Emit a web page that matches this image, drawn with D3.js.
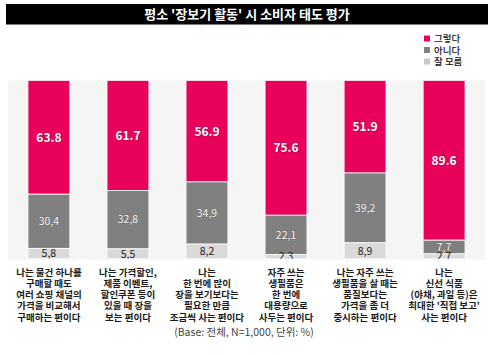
<!DOCTYPE html>
<html><head><meta charset="utf-8">
<script src="https://cdn.jsdelivr.net/npm/d3@7/dist/d3.min.js"></script>
<style>
body{margin:0;background:#fff;}
svg{display:block;font-family:"Noto Sans CJK KR","Noto Sans",sans-serif;}
</style></head>
<body>
<svg id="c" width="494" height="355"></svg>
<script>
const categories = [
  ["나는 물건 하나를","구매할 때도","여러 쇼핑 채널의","가격을 비교해서","구매하는 편이다"],
  ["나는 가격할인,","제품 이벤트,","할인쿠폰 등이","있을 때 장을","보는 편이다"],
  ["나는","한 번에 많이","장을 보기보다는","필요한 만큼","조금씩 사는 편이다"],
  ["자주 쓰는","생필품은","한 번에","대용량으로","사두는 편이다"],
  ["나는 자주 쓰는","생필품을 살 때는","품질보다는","가격을 좀 더","중시하는 편이다"],
  ["나는","신선 식품","(야채, 과일 등)은","최대한 '직접 보고'","사는 편이다"]
];
const seriesNames = ["그렇다","아니다","잘 모름"];
const yesValues = [63.8, 61.7, 56.9, 75.6, 51.9, 89.6];
const noValues = [30.4, 32.8, 34.9, 22.1, 39.2, 7.7];
const dkValues = [5.8, 5.5, 8.2, 2.3, 8.9, 2.7];
const colors = ["#e8005b", "#808080", "#d9d9d9"];
const legendColors = ["#e8005b", "#808080", "#c8c8c8"];
const title = "평소 '장보기 활동' 시 소비자 태도 평가";
const note = "(Base: 전체, N=1,000, 단위: %)";

const svg = d3.select("#c");
svg.append("rect").attr("x",6).attr("y",4).attr("width",482).attr("height",20.5).attr("fill","#000");
svg.append("text").attr("x",247).attr("y",19).attr("text-anchor","middle")
  .attr("fill","#fff").attr("font-size",13).attr("font-weight",700).text(title);

seriesNames.forEach((n,i)=>{
  const g = svg.append("g").attr("transform",`translate(424,${38.5+i*11.5})`);
  g.append("rect").attr("x",0).attr("y",-3).attr("width",6).attr("height",6).attr("fill",legendColors[i]);
  g.append("text").attr("x",10).attr("y",3.6).attr("font-size",9.5).attr("font-weight",500).attr("fill","#111").text(n);
});

const pTop = 80.5, pBottom = 258.7, pLeft = 8, pRight = 485;
svg.append("rect").attr("x",pLeft).attr("y",pTop).attr("width",pRight-pLeft).attr("height",pBottom-pTop+1).attr("fill","#f5f5f5");
svg.append("clipPath").attr("id","pc").append("rect").attr("x",pLeft).attr("y",pTop).attr("width",pRight-pLeft).attr("height",pBottom-pTop);

const x = d3.scaleBand().domain(d3.range(categories.length)).range([pLeft+1, pRight-1]).paddingInner(0.47).paddingOuter(0.24);
const y = d3.scaleLinear().domain([0,100]).range([pBottom, pTop]);

const rows = categories.map((c,i)=>({i, vals:[yesValues[i], noValues[i], dkValues[i]]}));
const g = svg.append("g").attr("clip-path","url(#pc)");
rows.forEach(r=>{
  let cum = 100;
  r.vals.forEach((v,k)=>{
    const y0 = y(cum), y1 = y(cum - v);
    g.append("rect").attr("x",x(r.i)).attr("width",x.bandwidth())
      .attr("y",y0).attr("height",y1-y0).attr("fill",colors[k])
      .attr("stroke","#fff").attr("stroke-width",0.8);
    const lbl = k===0 ? d3.format(".1f")(v) : d3.format(".1f")(v).replace(".",",");
    g.append("text").attr("x",x(r.i)+x.bandwidth()/2).attr("y",(y0+y1)/2+ (k===0?4.5:3.8))
      .attr("text-anchor","middle").attr("font-size",k===0?12:10.5)
      .attr("font-weight",k===0?700:400)
      .attr("fill",k===2?"#222":"#fff")
      .style("paint-order","stroke").attr("stroke",k===2?"none":"rgba(0,0,0,0.25)").attr("stroke-width",k===2?0:1)
      .text(lbl);
    cum -= v;
  });
});

categories.forEach((lines,i)=>{
  lines.forEach((l,j)=>{
    svg.append("text").attr("text-anchor","middle").attr("font-size",9.5).attr("font-weight",700).attr("fill","#1a1a1a")
      .attr("x",x(i)+x.bandwidth()/2).attr("y",275.5+j*11.3).text(l);
  });
});

svg.append("text").attr("x",244).attr("y",335.5).attr("text-anchor","middle").attr("font-size",10.5).attr("fill","#444").text(note);
</script>
</body></html>
